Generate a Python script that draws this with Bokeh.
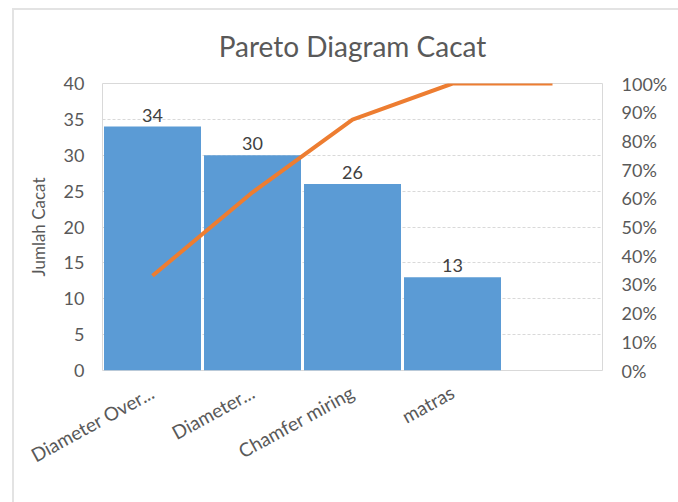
from bokeh.plotting import figure
from bokeh.models import (Range1d, LinearAxis, FixedTicker, PrintfTickFormatter,
                          ColumnDataSource, LabelSet, FactorRange)
from bokeh.core.properties import value
from bokeh.embed import file_html
from bokeh.resources import INLINE

categories = ["Diameter Over...", "Diameter...", "Chamfer miring", "matras", " "]
counts = [34, 30, 26, 13, 0]
bar_labels = ["34", "30", "26", "13", ""]
cum_pct = [33.0, 62.1, 87.4, 100.0, 100.0]
left_ticks = [0, 5, 10, 15, 20, 25, 30, 35, 40]
right_ticks = [0, 10, 20, 30, 40, 50, 60, 70, 80, 90, 100]

FONT = "Lato"
TXT = "#595959"

p = figure(x_range=FactorRange(*categories, range_padding=0), y_range=Range1d(0, 40),
           width=666, height=494, output_backend="svg", toolbar_location=None,
           title="Pareto Diagram Cacat")
p.margin = (8, 0, 0, 12)
p.styles = {"border-top": "2px solid #e3e3e3", "border-left": "2px solid #e3e3e3"}
p.min_border_left = 88
p.min_border_right = 78
p.min_border_top = 72
p.min_border_bottom = 134

p.title.text_font = FONT
p.title.text_font_size = "28px"
p.title.text_font_style = "normal"
p.title.text_color = TXT
p.title.align = "center"
p.title.vertical_align = "top"
p.title.standoff = 37

p.outline_line_color = "#d9d9d9"
p.xgrid.grid_line_color = None
p.ygrid.grid_line_color = "#d9d9d9"
p.ygrid.grid_line_dash = "3 2"
p.ygrid.ticker = FixedTicker(ticks=left_ticks)

src = ColumnDataSource(dict(cat=categories, val=counts, lab=bar_labels, pct=cum_pct))

p.vbar(x="cat", top="val", width=0.97, source=src, fill_color="#5B9BD5",
       line_color=None)

p.extra_y_ranges = {"pct": Range1d(0, 100)}
p.line(x="cat", y="pct", source=src, y_range_name="pct", line_color="#ED7D31",
       line_width=4)

labels = LabelSet(x="cat", y="val", text="lab", source=src, text_align="center",
                  text_baseline="bottom", y_offset=5, text_font_size="18px",
                  text_color="#404040", text_font=value(FONT))
p.add_layout(labels)

ya = p.yaxis[0]
ya.ticker = FixedTicker(ticks=left_ticks)
ya.axis_label = "Jumlah Cacat"
ya.axis_label_text_font = FONT
ya.axis_label_text_font_size = "17px"
ya.axis_label_text_font_style = "normal"
ya.axis_label_text_color = TXT
ya.axis_label_standoff = 12

ra = LinearAxis(y_range_name="pct", ticker=FixedTicker(ticks=right_ticks),
                formatter=PrintfTickFormatter(format="%d%%"))
p.add_layout(ra, "right")

for ax in [ya, ra]:
    ax.axis_line_color = None
    ax.major_tick_line_color = None
    ax.minor_tick_line_color = None
    ax.major_label_text_font = FONT
    ax.major_label_text_font_size = "18px"
    ax.major_label_text_color = TXT
ya.major_label_standoff = 12
ra.major_label_standoff = 13

xa = p.xaxis[0]
xa.axis_line_color = None
xa.major_tick_line_color = None
xa.major_label_orientation = 0.5
xa.major_label_text_font = FONT
xa.major_label_text_font_size = "19px"
xa.major_label_text_color = TXT
xa.major_label_standoff = 14

open("out.html", "w").write(file_html(p, INLINE))
